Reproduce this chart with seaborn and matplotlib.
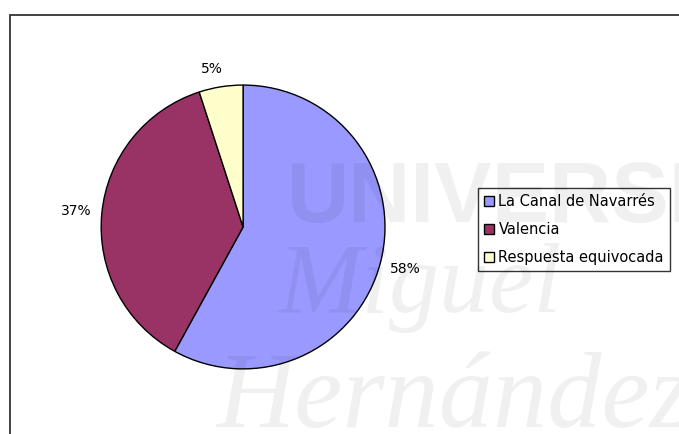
import matplotlib
matplotlib.use("Agg")
import matplotlib.pyplot as plt
import seaborn as sns
from matplotlib.patches import Rectangle

# data
categories = ["La Canal de Navarrés", "Valencia", "Respuesta equivocada"]
shares = [58, 37, 5]
slice_colors = ["#9999FF", "#993366", "#FFFFCC"]

sns.set_style("white")
plt.rcParams["font.family"] = ["DejaVu Sans"]
plt.rcParams["text.color"] = "black"

fig = plt.figure(figsize=(6.79, 4.34), dpi=100)
fig.patch.set_facecolor("white")

# outer chart frame (cropped on right and bottom)
fig.patches.append(Rectangle((0.0147, -0.05), 1.2, 1.0154, transform=fig.transFigure,
                             fill=False, edgecolor="#333333", linewidth=1.3, zorder=1))

ax = fig.add_axes([0.149, 0.150, 0.418, 0.654])
ax.set_facecolor("none")
wedges, texts = ax.pie(
    shares,
    colors=slice_colors,
    startangle=90,
    counterclock=False,
    labels=[f"{v}%" for v in shares],
    labeldistance=1.18,
    wedgeprops=dict(edgecolor="black", linewidth=1.0),
    textprops=dict(fontsize=10, color="black"),
)
for t in texts:
    t.set_horizontalalignment("center")
    t.set_verticalalignment("center")
    t.set_clip_on(False)
# the small slice label sits a bit closer to the pie
x5, y5 = texts[2].get_position()
texts[2].set_position((x5 * 1.2, y5 * 1.125 / 1.18))
ax.set_aspect("equal")
ax.set_xlim(-1.0, 1.0)
ax.set_ylim(-1.0, 1.0)

leg = fig.legend(wedges, categories, loc="upper left", bbox_to_anchor=(0.704, 0.567),
                 frameon=True, fancybox=False, shadow=False, fontsize=10.5,
                 handlelength=0.7, handleheight=0.7, handletextpad=0.3,
                 labelspacing=0.9, borderpad=0.4, borderaxespad=0, labelcolor="black")
leg.get_frame().set_edgecolor("black")
leg.get_frame().set_linewidth(1.0)
for h in leg.legend_handles:
    h.set_edgecolor("black")
    h.set_linewidth(1.0)

# faint university watermark laid over the whole chart
wm = dict(color="black", alpha=0.06, zorder=20)
fig.text(0.423, 0.488, "UNIVERSITAS", fontsize=62, fontweight="bold",
         family="Liberation Sans", **wm)
fig.text(0.41, 0.28, "Miguel", fontsize=72, family="Liberation Serif", style="italic", **wm)
fig.text(0.318, 0.016, "Hernández", fontsize=78, family="Liberation Serif", style="italic", **wm)

fig.savefig("out.png", dpi=100)
